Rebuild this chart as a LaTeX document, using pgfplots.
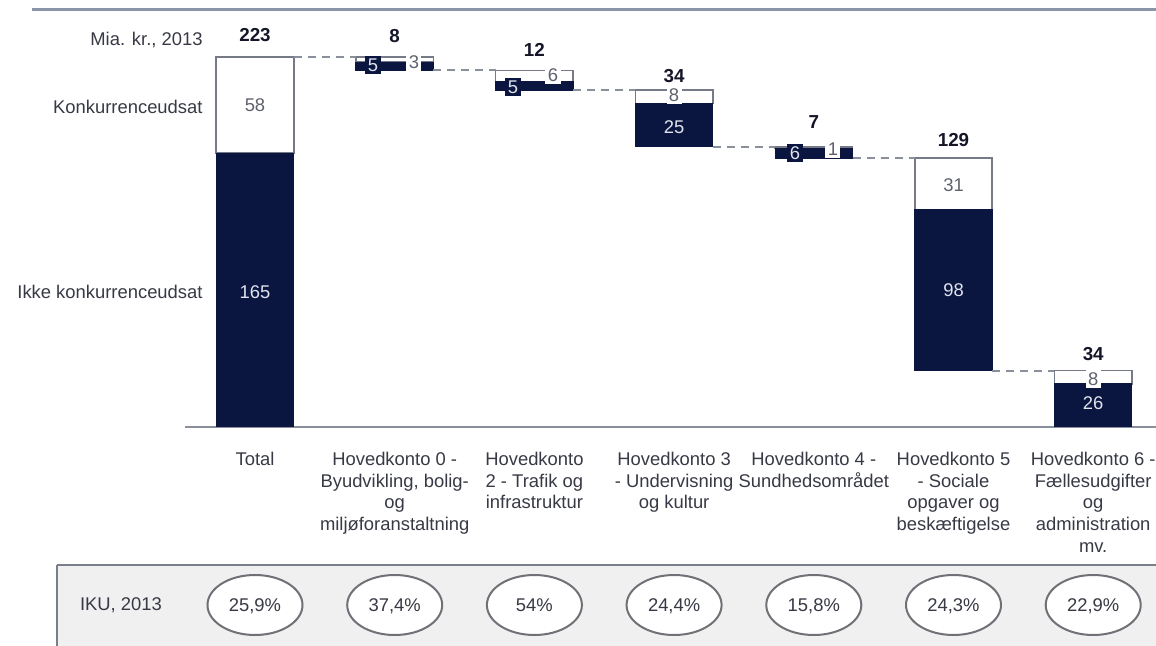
\documentclass[border=0pt]{standalone}
\usepackage{fontspec}
\setmainfont{Liberation Sans}
\usepackage{pgfplots}
\pgfplotsset{compat=1.18}
\usepackage{pgfplotstable}
\usetikzlibrary{shapes.geometric}
\definecolor{navy}{RGB}{10,22,64}
\definecolor{axisgray}{RGB}{138,143,156}
\definecolor{topline}{RGB}{140,148,168}
\definecolor{bandfill}{RGB}{240,240,241}
\definecolor{bandline}{RGB}{120,126,140}
\definecolor{txt}{RGB}{55,57,68}
\definecolor{wtxt}{RGB}{95,97,108}
\definecolor{totcol}{RGB}{20,22,40}
\definecolor{outgray}{RGB}{118,122,134}
\definecolor{ellgray}{RGB}{112,112,118}
\definecolor{lighttxt}{RGB}{225,228,238}

\pgfplotstableread{
x base dark white
0 0 165 58
1 215 5 3
2 203 5 7
3 169 26 8
4 162 6 1
5 34 97 31
6 0 26 8
}\bars

\pgfplotsset{
  common/.style={x=69.85pt, y=0.8295pt, anchor=origin, at={(0,0)},
    xmin=-0.5, xmax=6.45, ymin=0, ymax=240, clip=false,
    font=\fontsize{9.2}{10.9}\selectfont},
  conn/.style={axisgray, line width=1pt, dash pattern=on 4pt off 3pt},
}

\begin{document}
\begin{tikzpicture}
\path[use as bounding box] (-127.5pt,-109.5pt) rectangle (450.5pt,213.5pt);
% decorative top rule
\draw[topline, line width=1.5pt] (-111.5pt,208.5pt) -- (450.5pt,208.5pt);
% bottom band
\fill[bandfill] (-99pt,-69pt) rectangle (452pt,-112pt);
\draw[bandline, line width=0.6pt] (-99pt,-69pt) -- (-99pt,-112pt);
\draw[bandline, line width=1.1pt] (-99pt,-69pt) -- (452pt,-69pt);
\node[anchor=west, text=txt, font=\fontsize{9.2}{10.9}\selectfont] at (-91pt,-89pt) {IKU, 2013};

\begin{axis}[common, ybar stacked, bar width=38.75pt,
  axis y line=none, axis x line=bottom,
  x axis line style={-, draw=axisgray, line width=1pt},
  ytick=\empty, xtick={0,...,6}, major tick length=0pt,
  xticklabels={{Total},
    {Hovedkonto 0 -\\Byudvikling, bolig-\\og\\miljøforanstaltning},
    {Hovedkonto\\2 - Trafik og\\infrastruktur},
    {Hovedkonto 3\\- Undervisning\\og kultur},
    {Hovedkonto 4 -\\Sundhedsområdet},
    {Hovedkonto 5\\- Sociale\\opgaver og\\beskæftigelse},
    {Hovedkonto 6 -\\Fællesudgifter\\og\\administration\\mv.}},
  xticklabel style={align=center, anchor=north, yshift=-9pt, text=txt,
    font=\fontsize{9.2}{10.9}\selectfont},
]
\addplot[draw=none, fill=none] table[x=x, y=base] {\bars};
\addplot[fill=navy, draw=navy, line width=0.5pt] table[x=x, y=dark] {\bars};
\addplot[fill=white, draw=outgray, line width=0.8pt] table[x=x, y=white] {\bars};
\end{axis}

\begin{axis}[common, hide axis]
% connectors
\addplot[conn] coordinates {(0.2775,223) (0.7225,223)};
\addplot[conn] coordinates {(1.2775,215) (1.7225,215)};
\addplot[conn] coordinates {(2.2775,203) (2.7225,203)};
\addplot[conn] coordinates {(3.2775,169) (3.7225,169)};
\addplot[conn] coordinates {(4.2775,162) (4.7225,162)};
\addplot[conn] coordinates {(5.2775,34) (5.7225,34)};
% totals
\addplot[only marks, mark=none, nodes near coords, point meta=explicit symbolic,
  every node near coord/.append style={anchor=center, font=\fontsize{9.4}{11}\selectfont\bfseries, text=totcol}]
  coordinates {(0,236.3)[223] (1,235.7)[8] (2,227.2)[12] (3,211.6)[34] (4,183.8)[7] (5,173)[129] (6,44)[34]};
% labels on dark segments
\addplot[only marks, mark=none, nodes near coords, point meta=explicit symbolic,
  every node near coord/.append style={anchor=center, fill=navy, inner sep=1.4pt, text=lighttxt}]
  coordinates {(0,81.4)[165] (0.845,218.2)[5] (1.847,204.9)[5] (3,180.8)[25] (3.865,165.2)[6] (5,82.6)[98] (6,14.5)[26]};
% labels on white segments
\addplot[only marks, mark=none, nodes near coords, point meta=explicit symbolic,
  every node near coord/.append style={anchor=center, fill=white, inner sep=1.2pt, text=wtxt}]
  coordinates {(0,194.1)[58] (1.138,220.0)[3] (2.133,212.2)[6] (3,200)[8] (4.137,167.6)[1] (5,145.9)[31] (6,28.9)[8]};
% IKU ellipses
\addplot[only marks, mark=none, nodes near coords, point meta=explicit symbolic,
  every node near coord/.append style={anchor=center, ellipse, draw=ellgray, line width=1pt, fill=white,
    minimum width=47.5pt, minimum height=30pt, inner sep=0pt, text=txt,
    text height=1.6ex, text depth=0.4ex}]
  coordinates {(0,-107.3)[25,9\%] (1,-107.3)[37,4\%] (2,-107.3)[54\%] (3,-107.3)[24,4\%]
               (4,-107.3)[15,8\%] (5,-107.3)[24,3\%] (6,-107.3)[22,9\%]};
% left labels
\node[anchor=east, text=txt] at (axis cs:-0.325,233.3) {Mia. kr., 2013};
\node[anchor=east, text=txt] at (axis cs:-0.325,192.9) {Konkurrenceudsat};
\node[anchor=east, text=txt] at (axis cs:-0.325,81.4) {Ikke konkurrenceudsat};
\end{axis}
\end{tikzpicture}
\end{document}
